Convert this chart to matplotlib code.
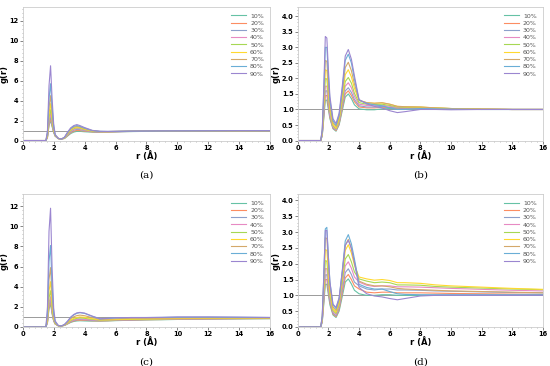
import matplotlib
matplotlib.use("Agg")
import matplotlib.pyplot as plt
from matplotlib.ticker import MultipleLocator, AutoMinorLocator

# r grid (Angstrom) shared by all panels
r = [0, 1.5, 1.6, 1.7, 1.8, 1.9, 2.0, 2.1, 2.3, 2.5, 2.7, 2.9, 3.1, 3.3, 3.5, 3.7,
     4.0, 4.5, 5.0, 5.5, 6.0, 6.5, 7.0, 8, 9, 10, 12, 14, 16]

labels = ['10%', '20%', '30%', '40%', '50%', '60%', '70%', '80%', '90%']
colors = ['#66c2a5', '#fc8d62', '#8da0cb', '#e78ac3', '#a6d854',
          '#ffd92f', '#d4a86a', '#6aaed6', '#9b86d0']

# ─── panel (a) ────────────────────────────────────────────────────────────────
gr_a = [
    [0, 0, 0.3, 1.5, 2.0, 1.4, 0.8, 0.45, 0.2, 0.15, 0.2, 0.45, 0.7, 0.85, 0.92, 0.92, 0.88, 0.84, 0.83, 0.85, 0.87, 0.89, 0.9, 0.92, 0.94, 0.95, 0.97, 0.98, 0.99],
    [0, 0, 0.3, 1.6, 2.2, 1.5, 0.85, 0.45, 0.2, 0.15, 0.22, 0.5, 0.78, 0.95, 1.02, 1.0, 0.95, 0.87, 0.85, 0.86, 0.88, 0.9, 0.91, 0.93, 0.95, 0.96, 0.97, 0.98, 0.99],
    [0, 0, 0.35, 1.8, 2.4, 1.6, 0.9, 0.45, 0.2, 0.15, 0.25, 0.55, 0.85, 1.05, 1.12, 1.1, 1.0, 0.9, 0.87, 0.87, 0.89, 0.9, 0.92, 0.94, 0.95, 0.96, 0.97, 0.98, 0.99],
    [0, 0, 0.4, 2.0, 2.7, 1.8, 0.95, 0.5, 0.2, 0.15, 0.25, 0.6, 0.92, 1.12, 1.2, 1.17, 1.05, 0.92, 0.88, 0.88, 0.9, 0.91, 0.92, 0.94, 0.95, 0.96, 0.97, 0.98, 0.99],
    [0, 0, 0.45, 2.3, 3.1, 2.0, 1.0, 0.5, 0.2, 0.15, 0.27, 0.65, 1.0, 1.2, 1.28, 1.24, 1.1, 0.94, 0.89, 0.89, 0.9, 0.92, 0.93, 0.94, 0.95, 0.96, 0.97, 0.98, 0.99],
    [0, 0, 0.55, 2.7, 3.7, 2.3, 1.1, 0.5, 0.2, 0.15, 0.28, 0.7, 1.07, 1.28, 1.36, 1.3, 1.15, 0.96, 0.9, 0.9, 0.91, 0.92, 0.93, 0.95, 0.96, 0.97, 0.98, 0.98, 0.99],
    [0, 0, 0.65, 3.3, 4.5, 2.7, 1.2, 0.5, 0.2, 0.15, 0.3, 0.75, 1.13, 1.35, 1.42, 1.36, 1.2, 0.98, 0.91, 0.9, 0.92, 0.93, 0.94, 0.95, 0.96, 0.97, 0.98, 0.99, 0.99],
    [0, 0, 0.8, 4.2, 5.7, 3.3, 1.4, 0.55, 0.2, 0.15, 0.32, 0.8, 1.2, 1.42, 1.5, 1.42, 1.25, 1.0, 0.92, 0.91, 0.92, 0.93, 0.94, 0.95, 0.96, 0.97, 0.98, 0.99, 0.99],
    [0, 0, 1.0, 5.5, 7.5, 4.2, 1.7, 0.6, 0.22, 0.15, 0.33, 0.85, 1.27, 1.5, 1.6, 1.5, 1.3, 1.02, 0.93, 0.92, 0.93, 0.94, 0.95, 0.96, 0.97, 0.97, 0.98, 0.99, 0.99],
]

# ─── panel (b) ────────────────────────────────────────────────────────────────
gr_b = [
    [0, 0, 0.15, 0.7, 1.3, 1.3, 1.0, 0.7, 0.38, 0.3, 0.5, 0.95, 1.4, 1.5, 1.35, 1.15, 1.02, 0.99, 0.99, 1.02, 1.03, 1.02, 1.02, 1.03, 1.02, 1.01, 1.0, 1.0, 1.0],
    [0, 0, 0.17, 0.78, 1.45, 1.45, 1.1, 0.75, 0.4, 0.32, 0.53, 1.02, 1.5, 1.6, 1.45, 1.25, 1.08, 1.05, 1.05, 1.07, 1.06, 1.04, 1.03, 1.04, 1.03, 1.02, 1.01, 1.0, 1.0],
    [0, 0, 0.18, 0.85, 1.6, 1.6, 1.2, 0.8, 0.42, 0.34, 0.56, 1.08, 1.6, 1.7, 1.55, 1.32, 1.12, 1.08, 1.08, 1.1, 1.07, 1.05, 1.04, 1.05, 1.03, 1.02, 1.01, 1.0, 1.0],
    [0, 0, 0.2, 0.95, 1.75, 1.75, 1.3, 0.85, 0.45, 0.36, 0.6, 1.16, 1.75, 1.86, 1.7, 1.42, 1.17, 1.13, 1.12, 1.14, 1.1, 1.07, 1.06, 1.06, 1.04, 1.03, 1.01, 1.0, 1.0],
    [0, 0, 0.22, 1.05, 2.0, 1.98, 1.45, 0.95, 0.48, 0.38, 0.64, 1.25, 1.9, 2.03, 1.85, 1.52, 1.22, 1.17, 1.16, 1.17, 1.13, 1.08, 1.07, 1.07, 1.05, 1.03, 1.01, 1.0, 1.0],
    [0, 0, 0.25, 1.2, 2.28, 2.25, 1.62, 1.05, 0.52, 0.4, 0.7, 1.38, 2.12, 2.28, 2.05, 1.68, 1.28, 1.22, 1.2, 1.21, 1.17, 1.1, 1.09, 1.08, 1.05, 1.03, 1.01, 1.0, 1.0],
    [0, 0, 0.28, 1.35, 2.58, 2.55, 1.82, 1.15, 0.58, 0.45, 0.76, 1.5, 2.35, 2.52, 2.25, 1.82, 1.3, 1.22, 1.2, 1.22, 1.17, 1.1, 1.09, 1.08, 1.05, 1.03, 1.01, 1.0, 1.0],
    [0, 0, 0.32, 1.55, 3.0, 3.0, 2.1, 1.3, 0.64, 0.5, 0.82, 1.62, 2.58, 2.78, 2.5, 1.98, 1.3, 1.2, 1.15, 1.12, 1.05, 1.0, 1.0, 1.03, 1.02, 1.01, 1.0, 1.0, 1.0],
    [0, 0, 0.35, 1.7, 3.35, 3.3, 2.3, 1.42, 0.7, 0.55, 0.88, 1.72, 2.72, 2.93, 2.62, 2.08, 1.32, 1.18, 1.1, 1.05, 0.96, 0.9, 0.93, 1.0, 1.0, 0.99, 1.0, 1.0, 1.0],
]

# ─── panel (c) ────────────────────────────────────────────────────────────────
gr_c = [
    [0, 0, 0.4, 1.8, 2.3, 1.3, 0.6, 0.3, 0.12, 0.1, 0.15, 0.3, 0.45, 0.55, 0.6, 0.62, 0.6, 0.58, 0.58, 0.6, 0.63, 0.65, 0.67, 0.7, 0.72, 0.75, 0.78, 0.8, 0.82],
    [0, 0, 0.45, 2.0, 2.5, 1.4, 0.62, 0.3, 0.12, 0.1, 0.16, 0.32, 0.5, 0.6, 0.66, 0.68, 0.66, 0.62, 0.6, 0.62, 0.65, 0.67, 0.69, 0.72, 0.74, 0.77, 0.8, 0.82, 0.84],
    [0, 0, 0.5, 2.2, 2.7, 1.5, 0.65, 0.3, 0.12, 0.1, 0.17, 0.35, 0.55, 0.66, 0.72, 0.75, 0.72, 0.66, 0.63, 0.64, 0.67, 0.69, 0.71, 0.74, 0.76, 0.79, 0.82, 0.84, 0.86],
    [0, 0, 0.55, 2.4, 3.0, 1.65, 0.7, 0.32, 0.12, 0.1, 0.18, 0.37, 0.58, 0.7, 0.77, 0.8, 0.77, 0.7, 0.65, 0.66, 0.69, 0.71, 0.73, 0.76, 0.78, 0.8, 0.83, 0.85, 0.87],
    [0, 0, 0.65, 2.9, 3.6, 1.9, 0.78, 0.34, 0.12, 0.1, 0.19, 0.4, 0.64, 0.78, 0.86, 0.9, 0.86, 0.76, 0.68, 0.69, 0.71, 0.73, 0.75, 0.78, 0.8, 0.82, 0.84, 0.86, 0.88],
    [0, 0, 0.8, 3.6, 4.5, 2.3, 0.9, 0.38, 0.12, 0.1, 0.2, 0.44, 0.71, 0.86, 0.95, 1.0, 0.96, 0.82, 0.71, 0.72, 0.74, 0.76, 0.78, 0.8, 0.82, 0.84, 0.86, 0.88, 0.89],
    [0, 0, 1.0, 4.7, 5.9, 3.0, 1.1, 0.42, 0.13, 0.1, 0.22, 0.5, 0.82, 1.02, 1.13, 1.18, 1.12, 0.93, 0.76, 0.78, 0.82, 0.84, 0.86, 0.87, 0.88, 0.9, 0.91, 0.91, 0.9],
    [0, 0, 1.4, 6.5, 8.1, 4.0, 1.4, 0.5, 0.14, 0.1, 0.24, 0.56, 0.95, 1.2, 1.36, 1.42, 1.35, 1.05, 0.8, 0.85, 0.9, 0.92, 0.94, 0.94, 0.95, 0.97, 0.98, 0.96, 0.94],
    [0, 0, 2.0, 9.5, 11.8, 5.8, 1.9, 0.6, 0.15, 0.1, 0.25, 0.58, 0.98, 1.24, 1.4, 1.45, 1.38, 1.08, 0.82, 0.87, 0.92, 0.93, 0.94, 0.94, 0.96, 1.0, 1.0, 0.98, 0.95],
]

# ─── panel (d) ────────────────────────────────────────────────────────────────
gr_d = [
    [0, 0, 0.15, 0.72, 1.35, 1.35, 1.02, 0.7, 0.38, 0.3, 0.5, 0.95, 1.42, 1.52, 1.36, 1.16, 1.05, 1.0, 1.0, 1.02, 1.02, 1.0, 1.0, 1.0, 1.0, 1.0, 1.0, 1.0, 1.0],
    [0, 0, 0.17, 0.8, 1.5, 1.5, 1.12, 0.77, 0.41, 0.33, 0.55, 1.05, 1.55, 1.66, 1.5, 1.3, 1.2, 1.1, 1.08, 1.1, 1.1, 1.08, 1.08, 1.08, 1.07, 1.06, 1.05, 1.04, 1.03],
    [0, 0, 0.19, 0.88, 1.65, 1.65, 1.22, 0.83, 0.44, 0.36, 0.6, 1.15, 1.72, 1.84, 1.66, 1.42, 1.3, 1.2, 1.17, 1.2, 1.2, 1.17, 1.17, 1.16, 1.14, 1.13, 1.11, 1.09, 1.08],
    [0, 0, 0.21, 0.98, 1.85, 1.84, 1.35, 0.9, 0.48, 0.4, 0.66, 1.28, 1.93, 2.06, 1.86, 1.58, 1.42, 1.32, 1.28, 1.3, 1.3, 1.27, 1.27, 1.26, 1.24, 1.22, 1.19, 1.16, 1.14],
    [0, 0, 0.23, 1.1, 2.1, 2.08, 1.52, 1.0, 0.52, 0.43, 0.72, 1.4, 2.15, 2.29, 2.06, 1.74, 1.52, 1.45, 1.4, 1.42, 1.4, 1.33, 1.33, 1.32, 1.28, 1.26, 1.23, 1.2, 1.18],
    [0, 0, 0.27, 1.28, 2.45, 2.42, 1.75, 1.12, 0.57, 0.47, 0.78, 1.55, 2.42, 2.6, 2.34, 1.95, 1.58, 1.52, 1.48, 1.5, 1.47, 1.4, 1.4, 1.38, 1.33, 1.3, 1.26, 1.22, 1.19],
    [0, 0, 0.3, 1.45, 2.82, 2.8, 2.0, 1.28, 0.63, 0.52, 0.85, 1.65, 2.58, 2.77, 2.5, 2.05, 1.45, 1.35, 1.3, 1.3, 1.27, 1.22, 1.2, 1.18, 1.16, 1.14, 1.12, 1.1, 1.08],
    [0, 0, 0.34, 1.6, 3.1, 3.15, 2.25, 1.42, 0.7, 0.58, 0.9, 1.75, 2.72, 2.92, 2.63, 2.15, 1.35, 1.25, 1.2, 1.2, 1.12, 1.05, 1.03, 1.02, 1.02, 1.02, 1.02, 1.02, 1.02],
    [0, 0, 0.34, 1.6, 3.05, 3.05, 2.2, 1.42, 0.72, 0.62, 0.92, 1.72, 2.58, 2.74, 2.48, 2.03, 1.25, 1.05, 0.98, 0.95, 0.9, 0.86, 0.9, 0.98, 1.0, 1.0, 1.0, 1.0, 1.0],
]

# panel placement (figure fractions), y-limits, tick steps, ylabel x, caption
panels = [
    (gr_a, [0.0413, 0.616, 0.450, 0.365], 13.4, 2,   -0.058, '(a)'),
    (gr_b, [0.5413, 0.616, 0.446, 0.365], 4.3,  0.5, -0.07,  '(b)'),
    (gr_c, [0.0413, 0.1066, 0.450, 0.363], 13.2, 2,  -0.058, '(c)'),
    (gr_d, [0.5413, 0.1066, 0.446, 0.363], 4.2, 0.5, -0.07,  '(d)'),
]

fig = plt.figure(figsize=(5.5, 3.66), dpi=100)

for gr, rect, ytop, ystep, ylx, cap in panels:
    ax = fig.add_axes(rect)
    ax.axhline(1.0, color='#9a9a9a', lw=0.7, zorder=1)
    for lbl, col, y in zip(labels, colors, gr):
        ax.plot(r, y, color=col, lw=0.8, label=lbl, zorder=2)
    ax.set_xlim(0, 16)
    ax.set_ylim(0, ytop)
    ax.xaxis.set_major_locator(MultipleLocator(2))
    ax.yaxis.set_major_locator(MultipleLocator(ystep))
    ax.xaxis.set_minor_locator(AutoMinorLocator(5))
    ax.yaxis.set_minor_locator(AutoMinorLocator(5))
    ax.tick_params(which='major', labelsize=4.8, length=2, width=0.5, pad=1, color='#555555')
    ax.tick_params(which='minor', length=1, width=0.4, color='#888888')
    for t in ax.get_xticklabels() + ax.get_yticklabels():
        t.set_fontweight('bold')
    if ystep == 0.5:
        ax.yaxis.set_major_formatter(plt.FormatStrFormatter('%.1f'))
    for s in ax.spines.values():
        s.set_color('#cccccc')
        s.set_linewidth(0.6)
    ax.set_xlabel('r (Å)', fontsize=6, fontweight='bold', labelpad=0)
    ax.set_ylabel('g(r)', fontsize=6, fontweight='bold')
    ax.yaxis.set_label_coords(ylx, 0.5)
    ax.legend(loc='upper right', frameon=False, fontsize=4.5, labelspacing=0.3,
              handlelength=2.4, handletextpad=0.6, borderaxespad=0.6,
              labelcolor='#555555')
    cx = rect[0] + rect[2] / 2
    fig.text(cx, rect[1] - 0.095, cap, ha='center', va='center',
             fontsize=7.5, family='DejaVu Serif')

fig.savefig('out.png', dpi=100)
